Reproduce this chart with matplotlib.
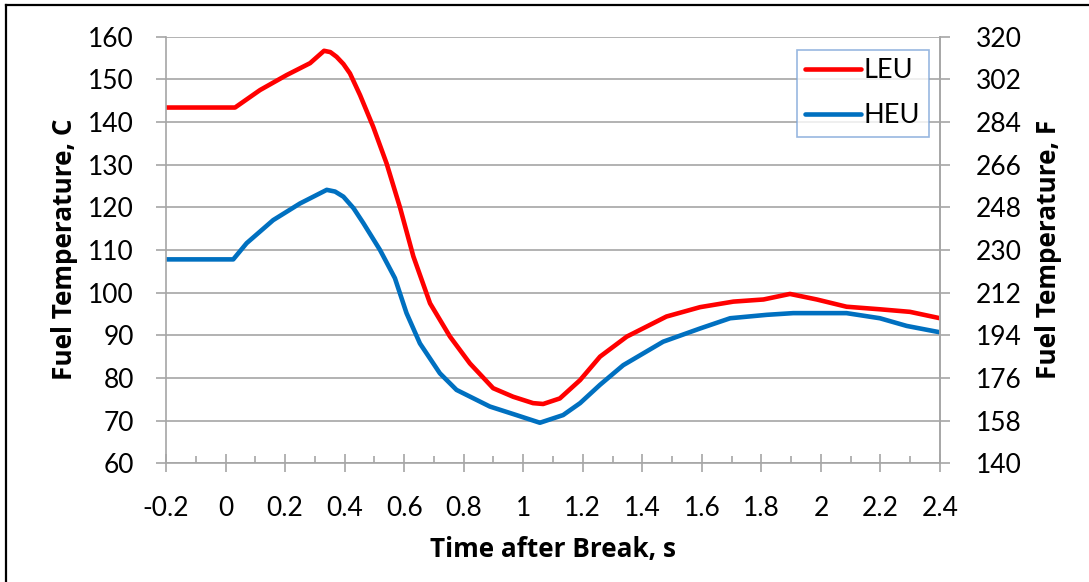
import numpy as np
import matplotlib
matplotlib.use('Agg')
import matplotlib.pyplot as plt
from matplotlib.lines import Line2D
from matplotlib.ticker import MultipleLocator

# data (time in s, temperature in C)
leu_t = [-0.2, 0.032, 0.116, 0.205, 0.284, 0.331, 0.352, 0.373, 0.396, 0.418, 0.452, 0.496, 0.541,
         0.586, 0.631, 0.687, 0.754, 0.821, 0.899, 0.966, 1.033, 1.067, 1.123, 1.191,
         1.258, 1.348, 1.481, 1.594, 1.706, 1.807, 1.896, 1.986, 2.086, 2.198, 2.299, 2.4]
leu_c = [143.4, 143.4, 147.5, 151.0, 153.8, 156.7, 156.4, 155.3, 153.6, 151.4, 146.3, 138.9, 130.3,
         120.0, 108.5, 97.5, 89.7, 83.4, 77.6, 75.6, 74.1, 73.9, 75.2, 79.5,
         85.0, 89.7, 94.4, 96.6, 97.9, 98.4, 99.7, 98.4, 96.7, 96.1, 95.5, 94.0]

heu_t = [-0.2, 0.026, 0.071, 0.160, 0.250, 0.340, 0.368, 0.396, 0.430, 0.463, 0.519, 0.569, 0.608,
         0.653, 0.720, 0.776, 0.888, 0.977, 1.056, 1.134, 1.191, 1.258, 1.336, 1.470,
         1.594, 1.695, 1.818, 1.907, 2.086, 2.198, 2.288, 2.4]
heu_c = [107.8, 107.8, 111.6, 117.0, 120.9, 124.1, 123.7, 122.5, 119.8, 116.3, 110.0, 103.4, 95.2,
         88.1, 81.1, 77.2, 73.3, 71.3, 69.5, 71.3, 74.1, 78.4, 83.0, 88.5,
         91.6, 94.0, 94.8, 95.2, 95.2, 94.0, 92.2, 90.7]

series = ['LEU', 'HEU']
colors = ['#ff0000', '#0070c0']

c_ticks = list(range(60, 161, 10))
f_ticks = [140, 158, 176, 194, 212, 230, 248, 266, 284, 302, 320]
x_ticks = [-0.2, 0, 0.2, 0.4, 0.6, 0.8, 1, 1.2, 1.4, 1.6, 1.8, 2, 2.2, 2.4]

plt.rcParams['font.family'] = ['Lato', 'DejaVu Sans']
grid_c = '#a6a6a6'
fs = 19
lab_font = dict(family=['Open Sans', 'DejaVu Sans'], size=18.8, weight='bold')

fig = plt.figure(figsize=(10.89, 5.82), dpi=100)
ax = fig.add_axes([0.1524, 0.2040, 0.7108, 0.7329])

ax.plot(leu_t, leu_c, color=colors[0], lw=3.3, label=series[0], solid_capstyle='round')
ax.plot(heu_t, heu_c, color=colors[1], lw=3.3, label=series[1], solid_capstyle='round')

ax.set_xlim(-0.2, 2.4)
ax.set_ylim(60, 160)
ax.set_xticks(x_ticks)
ax.set_xticklabels([f'{v:g}' for v in x_ticks])
ax.xaxis.set_minor_locator(MultipleLocator(0.1))
ax.set_yticks(c_ticks)
ax.yaxis.grid(True, color=grid_c, lw=1.2)
ax.set_axisbelow(True)

ax.spines['top'].set_visible(False)
for s in ['left', 'right', 'bottom']:
    ax.spines[s].set_color(grid_c)
    ax.spines[s].set_linewidth(1.2)

ax.tick_params(axis='x', which='major', direction='inout', length=13, width=1.2,
               color=grid_c, labelsize=fs, pad=17)
ax.tick_params(axis='x', which='minor', direction='in', length=5, width=1.2, color=grid_c)
ax.tick_params(axis='y', direction='out', length=7, width=1.2, color=grid_c,
               labelsize=fs, pad=16)

ax2 = ax.twinx()
ax2.set_ylim(140, 320)
ax2.set_yticks(f_ticks)
ax2.tick_params(axis='y', direction='out', length=7, width=1.2, color=grid_c,
                labelsize=fs, pad=19)
for s in ['top', 'left', 'bottom']:
    ax2.spines[s].set_visible(False)
ax2.spines['right'].set_color(grid_c)
ax2.spines['right'].set_linewidth(1.2)

ax.set_xlabel('Time after Break, s', **lab_font)
ax.set_ylabel('Fuel Temperature, C', **lab_font)
ax2.set_ylabel('Fuel Temperature, F', **lab_font)
ax.xaxis.set_label_coords(0.5006, -0.2032)
ax.xaxis.label.set_va('center')
ax.yaxis.set_label_coords(-0.1305, 0.502)
ax.yaxis.label.set_va('center')
ax2.yaxis.set_label_coords(1.1395, 0.502)
ax2.yaxis.label.set_va('center')

leg = ax.legend(loc='upper left', bbox_to_anchor=(797 / 1089, 1 - 50 / 582),
                bbox_transform=fig.transFigure, fontsize=19.5, frameon=True,
                fancybox=False, handlelength=2.05, handletextpad=0.12,
                labelspacing=0.75, borderpad=0.3, borderaxespad=0)
leg.get_frame().set_edgecolor('#7ea6d8')
leg.get_frame().set_linewidth(1.2)

# screenshot frame on top and left
fig.add_artist(Line2D([6 / 1089, 1], [1 - 5 / 582, 1 - 5 / 582], color='black', lw=1.6,
                      transform=fig.transFigure))
fig.add_artist(Line2D([6 / 1089, 6 / 1089], [0, 1 - 5 / 582], color='black', lw=1.6,
                      transform=fig.transFigure))

fig.savefig('out.png', dpi=100)
